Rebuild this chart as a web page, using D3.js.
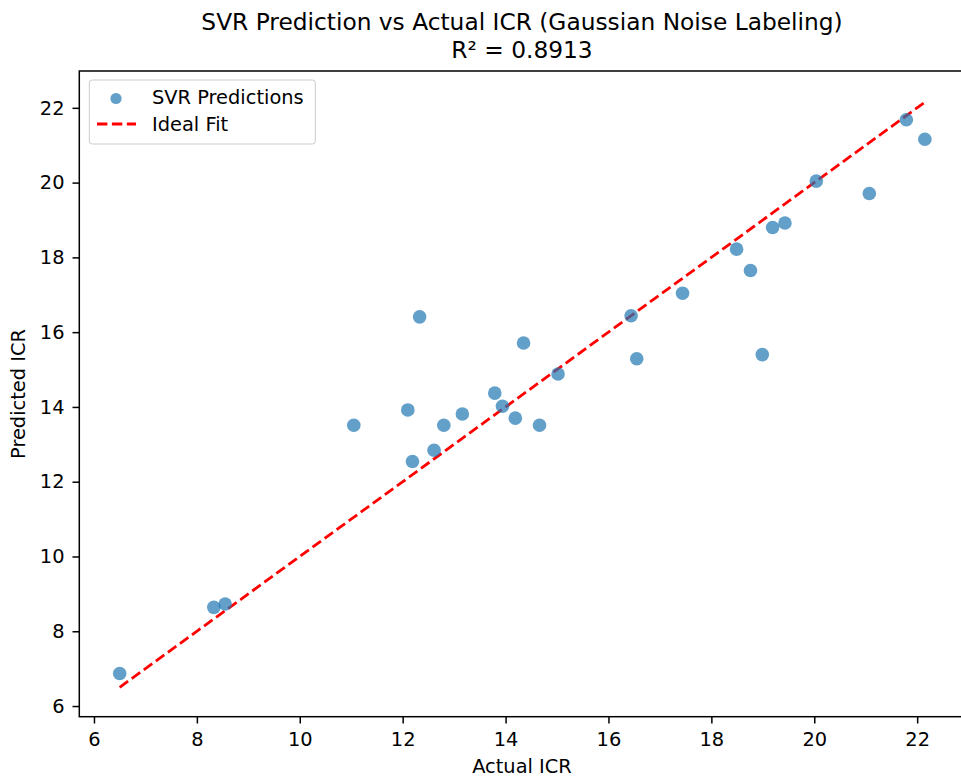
<!DOCTYPE html>
<html>
<head>
<meta charset="utf-8">
<script src="https://cdn.jsdelivr.net/npm/d3@7"></script>
<style>
  body { margin: 0; background: #fff; }
  svg { display: block; font-family: "DejaVu Sans", sans-serif; }
</style>
</head>
<body>
<svg width="961" height="778"></svg>
<script>
var actual = [6.5, 8.33, 8.55, 11.05, 12.10, 12.19, 12.33, 12.61, 12.80, 13.16, 13.79, 13.94, 14.19, 14.35,
              14.66, 15.02, 16.44, 16.55, 17.44, 18.49, 18.76, 18.99, 19.19, 19.43, 20.04, 21.07, 21.79, 22.15]
var predicted = [6.87, 8.64, 8.73, 13.51, 13.92, 12.54, 16.41, 12.84, 13.51, 13.81, 14.37, 14.02, 13.70, 15.71,
                 13.51, 14.88, 16.44, 15.29, 17.04, 18.22, 17.65, 15.40, 18.80, 18.92, 20.04, 19.71, 21.68, 21.16]
var ideal = [6.5, 22.17]
var ticks = [6, 8, 10, 12, 14, 16, 18, 20, 22]

var svg = d3.select('svg')
  , m = { left: 79.3, top: 71, bottom: 716.7 }
  , lo = 5.715, hi = 22.985
  , xs = d3.scaleLinear().domain([lo, hi]).range([m.left, m.left + (hi - lo) * 51.45])
  , ys = d3.scaleLinear().domain([lo, hi]).range([m.bottom, m.top])
  , dash = '10.4,4.5'

// title
svg.append('text').attr('x', 522).attr('y', 30).attr('text-anchor', 'middle')
  .attr('font-size', 23.3).text('SVR Prediction vs Actual ICR (Gaussian Noise Labeling)')
svg.append('text').attr('x', 522).attr('y', 58).attr('text-anchor', 'middle')
  .attr('font-size', 23.3).text('R² = 0.8913')

// ideal line
svg.append('line')
  .attr('x1', xs(ideal[0])).attr('y1', ys(ideal[0]))
  .attr('x2', xs(ideal[1])).attr('y2', ys(ideal[1]))
  .attr('stroke', 'red').attr('stroke-width', 2.8).attr('stroke-dasharray', dash)

// points
svg.append('g').selectAll('circle').data(actual).enter().append('circle')
  .attr('cx', function (d) { return xs(d) })
  .attr('cy', function (d, i) { return ys(predicted[i]) })
  .attr('r', 6.8)
  .attr('fill', '#1f77b4').attr('fill-opacity', 0.7)

// axes
var xa = svg.append('g').attr('transform', 'translate(0,' + m.bottom + ')')
  .call(d3.axisBottom(xs).tickValues(ticks).tickSize(6.8).tickPadding(9).tickSizeOuter(0))
var ya = svg.append('g').attr('transform', 'translate(' + m.left + ',0)')
  .call(d3.axisLeft(ys).tickValues(ticks).tickSize(6.8).tickPadding(8).tickSizeOuter(0))
;[xa, ya].forEach(function (a) {
  a.select('.domain').remove()
  a.selectAll('text').attr('font-size', 19.4).attr('fill', '#000').attr('font-family', '"DejaVu Sans", sans-serif')
  a.selectAll('line').attr('stroke', '#000').attr('stroke-width', 1.5)
})

// frame
svg.append('rect').attr('x', m.left).attr('y', m.top)
  .attr('width', xs(hi) - m.left).attr('height', m.bottom - m.top)
  .attr('fill', 'none').attr('stroke', '#000').attr('stroke-width', 1.5)

// axis labels
svg.append('text').attr('x', 522).attr('y', 773).attr('text-anchor', 'middle')
  .attr('font-size', 19.4).text('Actual ICR')
svg.append('text').attr('transform', 'translate(25,394) rotate(-90)').attr('text-anchor', 'middle')
  .attr('font-size', 19.4).text('Predicted ICR')

// legend
var lg = svg.append('g')
lg.append('rect').attr('x', 89.3).attr('y', 80).attr('width', 226).attr('height', 64).attr('rx', 3)
  .attr('fill', '#fff').attr('fill-opacity', 0.8).attr('stroke', '#ccc')
lg.append('circle').attr('cx', 116).attr('cy', 98.5).attr('r', 5.6)
  .attr('fill', '#1f77b4').attr('fill-opacity', 0.7)
lg.append('text').attr('x', 152).attr('y', 104.3).attr('font-size', 19.4).text('SVR Predictions')
lg.append('line').attr('x1', 97).attr('x2', 136).attr('y1', 124).attr('y2', 124)
  .attr('stroke', 'red').attr('stroke-width', 2.8).attr('stroke-dasharray', dash)
lg.append('text').attr('x', 152).attr('y', 131).attr('font-size', 19.4).text('Ideal Fit')
</script>
</body>
</html>
